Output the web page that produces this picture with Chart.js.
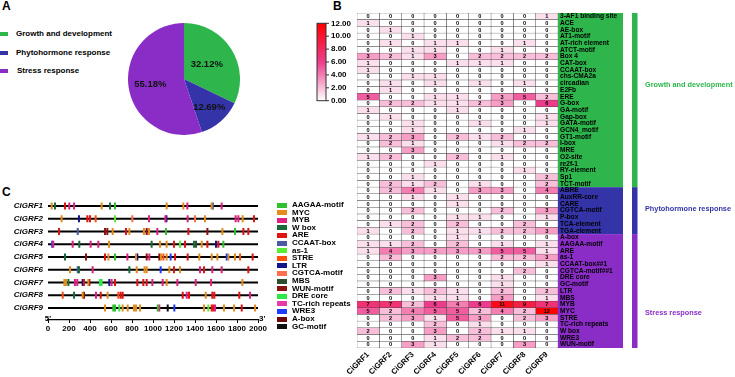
<!DOCTYPE html>
<html>
<head>
<meta charset="utf-8">
<script src="https://cdn.jsdelivr.net/npm/chart.js@4.4.1/dist/chart.umd.min.js"></script>
<style>
  body { margin: 0; background: #fff; font-family: "Liberation Sans", Arial, sans-serif; }
  #wrap { position: relative; width: 735px; height: 377px; overflow: hidden; }
  canvas { position: absolute; }
  .tag { position: absolute; font-weight: bold; font-size: 12px; line-height: 12px; }
  .lg { position: absolute; font-weight: bold; font-size: 8px; line-height: 8px; white-space: nowrap; }
  .sw { position: absolute; }
</style>
</head>
<body>
<div id="wrap">
  <div class="tag" style="left:2px;top:0px">A</div>
  <div class="tag" style="left:333px;top:0px">B</div>
  <div class="tag" style="left:2px;top:186px">C</div>
  <canvas id="pieChart" width="112" height="112" style="left:128px;top:23px"></canvas>
  <canvas id="heatChart" width="435" height="377" style="left:300px;top:0px"></canvas>
  <canvas id="geneChart" width="275" height="160" style="left:0px;top:180px"></canvas>
  <div id="pieLegend"></div>
  <div id="siteLegend"></div>
</div>
<script>
Chart.defaults.font.family = '"Liberation Sans", Arial, sans-serif';
Chart.defaults.color = '#000';
Chart.defaults.animation = false;

// ---- A: pie ----
const pieLabels = ['Growth and development', 'Phytohormone response', 'Stress response'];
const pieShares = [32.12, 12.69, 55.18];
const groupColors = ['#2eb64c', '#3434a8', '#8a2dc6'];

// ---- B: heatmap ----
const genes = ['CiGRF1', 'CiGRF2', 'CiGRF3', 'CiGRF4', 'CiGRF5', 'CiGRF6', 'CiGRF7', 'CiGRF8', 'CiGRF9'];

const growthMotifs = ['3-AF1 binding site', 'ACE', 'AE-box', 'AT1-motif', 'AT-rich element', 'ATCT-motif',
  'Box 4', 'CAT-box', 'CCAAT-box', 'chs-CMA2a', 'circadian', 'E2Fb', 'ERE', 'G-box', 'GA-motif', 'Gap-box',
  'GATA-motif', 'GCN4_motif', 'GT1-motif', 'I-box', 'MRE', 'O2-site', 're2f-1', 'RY-element', 'Sp1', 'TCT-motif'];
const growthCounts = [
  [0, 0, 0, 0, 0, 0, 0, 0, 1],
  [1, 0, 0, 0, 0, 0, 0, 0, 0],
  [0, 1, 0, 0, 0, 0, 0, 0, 0],
  [0, 0, 1, 0, 0, 0, 0, 0, 0],
  [0, 1, 0, 1, 1, 0, 0, 1, 0],
  [0, 0, 1, 1, 0, 0, 1, 0, 0],
  [3, 2, 1, 3, 0, 2, 2, 2, 2],
  [1, 0, 0, 0, 1, 1, 1, 0, 0],
  [1, 0, 0, 0, 0, 0, 0, 0, 0],
  [0, 0, 1, 1, 0, 0, 0, 0, 0],
  [0, 1, 0, 1, 0, 1, 0, 1, 0],
  [0, 1, 0, 0, 0, 0, 0, 0, 0],
  [5, 0, 0, 1, 1, 0, 3, 5, 2],
  [0, 2, 2, 1, 1, 2, 3, 0, 6],
  [1, 0, 0, 0, 1, 0, 0, 0, 0],
  [0, 1, 0, 0, 0, 0, 0, 0, 1],
  [0, 0, 1, 0, 0, 1, 0, 0, 1],
  [0, 0, 1, 0, 0, 0, 0, 1, 0],
  [1, 2, 3, 0, 2, 1, 2, 0, 0],
  [0, 2, 1, 0, 0, 0, 1, 2, 2],
  [0, 0, 3, 0, 0, 0, 0, 0, 0],
  [1, 2, 0, 0, 2, 0, 1, 0, 0],
  [0, 0, 0, 1, 0, 0, 0, 0, 0],
  [0, 0, 0, 0, 0, 0, 0, 1, 0],
  [0, 0, 1, 0, 0, 0, 0, 0, 2],
  [0, 2, 1, 2, 0, 1, 0, 0, 2]
];

const hormoneMotifs = ['ABRE', 'AuxRR-core', 'CARE', 'CGTCA-motif', 'P-box', 'TCA-element', 'TGA-element'];
const hormoneCounts = [
  [0, 2, 4, 1, 0, 3, 3, 0, 4],
  [0, 0, 1, 0, 1, 0, 0, 0, 0],
  [0, 0, 0, 0, 1, 0, 0, 0, 0],
  [0, 0, 2, 0, 0, 0, 2, 0, 3],
  [0, 0, 0, 0, 1, 1, 0, 0, 1],
  [0, 1, 2, 0, 2, 0, 0, 2, 0],
  [1, 0, 2, 0, 1, 1, 2, 2, 3]
];

const stressMotifs = ['A-box', 'AAGAA-motif', 'ARE', 'as-1', 'CCAAT-box##1', 'CGTCA-motif##1', 'DRE core',
  'GC-motif', 'LTR', 'MBS', 'MYB', 'MYC', 'STRE', 'TC-rich repeats', 'W box', 'WRE3', 'WUN-motif'];
const stressCounts = [
  [0, 0, 0, 0, 1, 0, 0, 0, 0],
  [1, 1, 2, 0, 2, 0, 1, 0, 1],
  [1, 4, 3, 3, 3, 3, 5, 5, 1],
  [0, 2, 0, 0, 0, 0, 2, 2, 3],
  [0, 0, 0, 0, 0, 0, 0, 0, 1],
  [0, 0, 0, 0, 0, 0, 0, 2, 0],
  [0, 0, 0, 3, 0, 0, 1, 0, 0],
  [0, 0, 0, 0, 0, 0, 1, 0, 0],
  [0, 2, 1, 2, 1, 0, 2, 0, 2],
  [0, 0, 0, 1, 1, 0, 3, 0, 1],
  [7, 7, 2, 6, 4, 6, 11, 9, 7],
  [5, 2, 4, 5, 5, 2, 4, 2, 12],
  [0, 2, 3, 1, 5, 3, 0, 2, 3],
  [0, 0, 0, 2, 0, 1, 0, 0, 0],
  [2, 0, 0, 3, 0, 2, 1, 1, 0],
  [0, 0, 0, 1, 2, 2, 0, 0, 0],
  [0, 0, 3, 1, 0, 0, 0, 3, 0]
];

const colorbarTicks = [0, 2, 4, 6, 8, 10, 12];

// ---- C: promoter sites ----
const siteTypes = ['AAGAA-motif', 'MYC', 'MYB', 'W box', 'ARE', 'CCAAT-box', 'as-1', 'STRE', 'LTR',
  'CGTCA-motif', 'MBS', 'WUN-motif', 'DRE core', 'TC-rich repeats', 'WRE3', 'A-box', 'GC-motif'];
const siteColors = ['#2ec02e', '#e38c1c', '#e0207f', '#17693a', '#e01212', '#4a5aa5', '#55ee33', '#ff4d0d',
  '#14148c', '#ff6d4f', '#2e4d2e', '#8c1111', '#2ee84a', '#e83aa6', '#1e3cff', '#6e0707', '#111111'];
const promoterLength = 2000;
const axisTicks = [0, 200, 400, 600, 800, 1000, 1200, 1400, 1600, 1800, 2000];

const grf1Sites = [['MYC', 35], ['W box', 67], ['ARE', 162], ['MYB', 203], ['MYB', 248], ['MYC', 511],
  ['W box', 591], ['AAGAA-motif', 638], ['MYC', 1130], ['MYC', 1289], ['MYB', 1327], ['MYC', 1558],
  ['CCAAT-box', 1570], ['MYB', 1654]];
const grf2Sites = [['MYC', 130], ['LTR', 295], ['ARE', 375], ['ARE', 400], ['STRE', 454], ['as-1', 638],
  ['CGTCA-motif', 803], ['MYB', 962], ['MYB', 1118], ['LTR', 1128], ['MYB', 1330], ['CGTCA-motif', 1400],
  ['MYC', 1495], ['MYB', 1787], ['MYB', 1813], ['MYC', 1854], ['ARE', 1962]];
const grf3Sites = [['ARE', 105], ['CCAAT-box', 283], ['WUN-motif', 543], ['WUN-motif', 565], ['MYC', 616],
  ['ARE', 743], ['MYC', 775], ['MYC', 914], ['WUN-motif', 940], ['MYC', 962], ['MYB', 1041],
  ['AAGAA-motif', 1124], ['ARE', 1337], ['WUN-motif', 1518], ['MYC', 1661], ['AAGAA-motif', 1781],
  ['ARE', 1861], ['ARE', 1908]];
const grf4Sites = [['WRE3', 40], ['MYB', 50], ['MYB', 235], ['W box', 298], ['MYB', 406], ['MYB', 479],
  ['MYC', 581], ['W box', 987], ['MYC', 1067], ['MYC', 1130], ['ARE', 1200], ['as-1', 1257], ['ARE', 1305],
  ['W box', 1390], ['MBS', 1410], ['MYC', 1464], ['ARE', 1518], ['LTR', 1600], ['ARE', 1622],
  ['AAGAA-motif', 1670]];
const grf5Sites = [['W box', 162], ['WUN-motif', 362], ['ARE', 543], ['MYC', 575], ['AAGAA-motif', 638],
  ['MYB', 756], ['MYC', 838], ['LTR', 851], ['WUN-motif', 940], ['MYB', 965], ['WUN-motif', 1060],
  ['MYC', 1076], ['STRE', 1099], ['MYC', 1130], ['WRE3', 1168], ['ARE', 1210], ['ARE', 1330], ['MYC', 1441],
  ['MYC', 1559], ['MYC', 1613], ['WRE3', 1702], ['MYC', 1718], ['MYC', 1781], ['STRE', 1829], ['ARE', 1949]];
const grf6Sites = [['MYC', 210], ['CCAAT-box', 283], ['W box', 295], ['MYB', 425], ['W box', 775],
  ['MYC', 845], ['MYC', 920], ['MYC', 940], ['WRE3', 1073], ['MYC', 1156], ['ARE', 1200], ['MYC', 1257],
  ['MYB', 1448], ['ARE', 1486], ['MYB', 1565], ['MYB', 1654], ['ARE', 1908]];
const grf7Sites = [['MYC', 156], ['MYC', 171], ['W box', 194], ['MYB', 257], ['MYB', 279], ['LTR', 330],
  ['ARE', 343], ['MYC', 384], ['WUN-motif', 394], ['DRE core', 495], ['DRE core', 511], ['LTR', 584],
  ['MYB', 606], ['ARE', 638], ['ARE', 851], ['ARE', 908], ['ARE', 940], ['MYB', 994], ['MYB', 1092],
  ['MYC', 1130], ['MYB', 1232], ['MYB', 1407], ['MYB', 1553], ['MYC', 1851]];
const grf8Sites = [['STRE', 140], ['W box', 248], ['MYC', 330], ['WUN-motif', 343], ['MYB', 457],
  ['ARE', 502], ['MYC', 568], ['STRE', 670], ['ARE', 692], ['ARE', 711], ['ARE', 1283], ['MYB', 1321],
  ['ARE', 1343], ['MYC', 1502], ['ARE', 1565], ['ARE', 1584], ['ARE', 1822], ['MYB', 1924]];
const grf9Sites = [['MYC', 543], ['AAGAA-motif', 622], ['AAGAA-motif', 638], ['DRE core', 679], ['MYC', 711],
  ['MYC', 759], ['MYC', 819], ['MYC', 838], ['MYC', 876], ['AAGAA-motif', 1045], ['MYB', 1060],
  ['GC-motif', 1140], ['WRE3', 1203], ['MYC', 1486], ['as-1', 1527], ['ARE', 1559], ['ARE', 1575],
  ['MYB', 1591], ['MYC', 1676], ['MYC', 1772], ['ARE', 1845], ['MYC', 1972]];
const geneSites = [grf1Sites, grf2Sites, grf3Sites, grf4Sites, grf5Sites, grf6Sites, grf7Sites, grf8Sites, grf9Sites];

const FONT = '"Liberation Sans", Arial, sans-serif';

// ================= A =================
// how far out (fraction of radius) each percentage label sits
const pieLabelRadius = [0.48, 0.68, 0.61];
const pieText = {
  id: 'pieText',
  afterDatasetsDraw(chart) {
    const ctx = chart.ctx;
    ctx.save();
    ctx.font = 'bold 9.5px ' + FONT;
    ctx.textAlign = 'center';
    ctx.textBaseline = 'middle';
    ctx.fillStyle = '#111';
    chart.getDatasetMeta(0).data.forEach((arc, i) => {
      const mid = (arc.startAngle + arc.endAngle) / 2;
      const r = arc.outerRadius * pieLabelRadius[i];
      ctx.fillText(pieShares[i].toFixed(2) + '%', arc.x + Math.cos(mid) * r, arc.y + Math.sin(mid) * r);
    });
    ctx.restore();
  }
};

new Chart(document.getElementById('pieChart'), {
  type: 'pie',
  data: {
    labels: pieLabels,
    datasets: [{ data: pieShares, backgroundColor: groupColors, borderWidth: 0 }]
  },
  options: {
    responsive: false,
    plugins: { legend: { display: false }, tooltip: { enabled: false } }
  },
  plugins: [pieText]
});

const pieLegend = document.getElementById('pieLegend');
const pieLegendY = [34, 53, 71];
pieLabels.forEach((name, i) => {
  pieLegend.insertAdjacentHTML('beforeend',
    `<div class="sw" style="left:0;top:${pieLegendY[i] - 2}px;width:8px;height:4px;background:${groupColors[i]}"></div>` +
    `<div class="lg" style="left:${i == 2 ? 17 : 16}px;top:${pieLegendY[i] - 4}px">${name}</div>`);
});

// ================= B =================
const groups = [
  { name: pieLabels[0], motifs: growthMotifs, counts: growthCounts, color: groupColors[0], labelAt: 10.3 },
  { name: pieLabels[1], motifs: hormoneMotifs, counts: hormoneCounts, color: groupColors[1], labelAt: 28.8 },
  { name: pieLabels[2], motifs: stressMotifs, counts: stressCounts, color: groupColors[2], labelAt: 44.3 }
];
const motifs = [].concat(growthMotifs, hormoneMotifs, stressMotifs);
const rows = [].concat(growthCounts, hormoneCounts, stressCounts);

const colorStops = [[0, [255, 255, 255]], [6, [238, 60, 140]], [12, [255, 0, 0]]];
function heatColor(v) {
  for (let i = 1; i < colorStops.length; i++) {
    const [v0, c0] = colorStops[i - 1];
    const [v1, c1] = colorStops[i];
    if (v <= v1) {
      const t = (v - v0) / (v1 - v0);
      const c = c0.map((a, k) => Math.round(a + (c1[k] - a) * t));
      return `rgb(${c[0]},${c[1]},${c[2]})`;
    }
  }
  return 'rgb(255,0,0)';
}

const heatExtras = {
  id: 'heatExtras',
  beforeDraw(chart) {
    const ctx = chart.ctx;
    const y = chart.scales.y;
    const area = chart.chartArea;
    const half = (y.getPixelForValue(1) - y.getPixelForValue(0)) / 2;
    let start = 0;
    ctx.save();
    groups.forEach(g => {
      const end = start + g.motifs.length - 1;
      const top = y.getPixelForValue(start) - half;
      const bottom = y.getPixelForValue(end) + half;
      ctx.fillStyle = g.color;
      ctx.fillRect(area.right, top, y.right - area.right, bottom - top);
      ctx.fillRect(area.right + 74, top, 5.5, bottom - top);
      ctx.font = 'bold 7.3px ' + FONT;
      ctx.textBaseline = 'middle';
      ctx.textAlign = 'left';
      ctx.fillText(g.name, area.right + 87, y.getPixelForValue(g.labelAt));
      start = end + 1;
    });

    // colour scale
    const bx = 17, bw = 9, btop = 23.3, bbot = 100.7;
    const grad = ctx.createLinearGradient(0, bbot, 0, btop);
    colorStops.forEach(([v, c]) => grad.addColorStop(v / 12, `rgb(${c[0]},${c[1]},${c[2]})`));
    ctx.fillStyle = grad;
    ctx.fillRect(bx, btop, bw, bbot - btop);
    ctx.strokeStyle = '#333';
    ctx.lineWidth = 1;
    ctx.strokeRect(bx, btop, bw, bbot - btop);
    ctx.fillStyle = '#000';
    ctx.font = 'bold 8px ' + FONT;
    ctx.textAlign = 'left';
    colorbarTicks.forEach(v => {
      const ty = bbot - v / 12 * (bbot - btop);
      ctx.beginPath();
      ctx.moveTo(bx + bw, ty);
      ctx.lineTo(bx + bw + 3, ty);
      ctx.stroke();
      ctx.fillText(v.toFixed(2), bx + bw + 5, ty);
    });
    ctx.restore();
  },
  afterDatasetsDraw(chart) {
    const ctx = chart.ctx;
    ctx.save();
    ctx.font = 'bold 5.6px ' + FONT;
    ctx.textAlign = 'center';
    ctx.textBaseline = 'middle';
    ctx.fillStyle = '#000';
    chart.data.datasets.forEach((ds, gi) => {
      chart.getDatasetMeta(gi).data.forEach((bar, ri) => {
        const p = bar.getCenterPoint();
        ctx.fillText(rows[ri][gi], p.x, p.y + 0.3);
      });
    });
    ctx.restore();
  }
};

new Chart(document.getElementById('heatChart'), {
  type: 'bar',
  data: {
    labels: motifs,
    datasets: genes.map((g, gi) => ({
      label: g,
      data: rows.map(() => 1),
      backgroundColor: rows.map(r => heatColor(r[gi])),
      borderColor: '#4a4a4a',
      borderWidth: 0.5,
      borderSkipped: false,
      barPercentage: 1,
      categoryPercentage: 1
    }))
  },
  options: {
    responsive: false,
    indexAxis: 'y',
    layout: { padding: { left: 57, top: 13, right: 112, bottom: 0 } },
    plugins: { legend: { display: false }, tooltip: { enabled: false } },
    scales: {
      x: {
        type: 'linear', stacked: true, min: 0, max: genes.length,
        grid: { display: false, drawTicks: false }, border: { display: false },
        afterBuildTicks: s => { s.ticks = genes.map((g, i) => ({ value: i + 0.5 })); },
        afterFit: s => { s.height = 29; },
        ticks: {
          autoSkip: false, minRotation: 45, maxRotation: 45, padding: 2,
          font: { size: 7.8, weight: 'bold' }, color: '#000',
          callback: (v, i) => genes[i]
        }
      },
      y: {
        stacked: true, position: 'right',
        grid: { display: false, drawTicks: false }, border: { display: false },
        afterFit: s => { s.width = 65; },
        ticks: { autoSkip: false, padding: 2, font: { size: 6.6, weight: 'bold' }, color: '#000' }
      }
    }
  },
  plugins: [heatExtras]
});

// ================= C =================
const primeLabels = {
  id: 'primeLabels',
  afterDraw(chart) {
    const ctx = chart.ctx;
    const x = chart.scales.x;
    const yb = chart.chartArea.bottom;
    ctx.save();
    ctx.font = 'bold 8px ' + FONT;
    ctx.fillStyle = '#000';
    ctx.textBaseline = 'bottom';
    ctx.textAlign = 'center';
    ctx.fillText("5'", x.getPixelForValue(0), yb + 2.5);
    ctx.textAlign = 'left';
    ctx.fillText("3'", x.getPixelForValue(promoterLength) + 1, yb + 2.5);
    ctx.restore();
  }
};

const siteDatasets = siteTypes.map((t, k) => {
  const pts = [];
  geneSites.forEach((sites, gi) => sites.forEach(([name, pos]) => {
    if (name === t) pts.push({ x: pos, y: gi });
  }));
  return {
    label: t, data: pts, order: 0,
    pointStyle: 'line', rotation: 90, pointRadius: 3.4, pointHoverRadius: 3.4,
    borderWidth: 2, borderColor: siteColors[k], backgroundColor: siteColors[k]
  };
});
const lineDatasets = genes.map((g, gi) => ({
  label: g, data: [{ x: 0, y: gi }, { x: promoterLength, y: gi }], order: 1,
  showLine: true, borderColor: '#000', borderWidth: 2.2, pointRadius: 0
}));

new Chart(document.getElementById('geneChart'), {
  type: 'scatter',
  data: { datasets: siteDatasets.concat(lineDatasets) },
  options: {
    responsive: false,
    layout: { padding: { left: 0, top: 19.6, right: 17, bottom: 0 } },
    plugins: { legend: { display: false }, tooltip: { enabled: false } },
    scales: {
      x: {
        type: 'linear', min: 0, max: promoterLength,
        afterBuildTicks: s => { s.ticks = axisTicks.map(v => ({ value: v })); },
        afterFit: s => { s.height = 20; },
        grid: { display: true, drawOnChartArea: false, drawTicks: true, tickLength: 3, color: '#000', lineWidth: 1 },
        border: { display: true, color: '#000', width: 1.2 },
        ticks: {
          padding: 1, font: { size: 8, weight: 'bold' }, color: '#000', maxRotation: 0, autoSkip: false,
          callback: v => String(v)
        }
      },
      y: {
        type: 'linear', reverse: true, min: -0.5, max: 8.94,
        afterBuildTicks: s => { s.ticks = genes.map((g, i) => ({ value: i })); },
        afterFit: s => { s.width = 48; },
        grid: { display: false, drawTicks: false }, border: { display: false },
        ticks: { padding: 5, font: { size: 8, weight: 'bold', style: 'italic' }, color: '#000', callback: (v, i) => genes[i] }
      }
    }
  },
  plugins: [primeLabels]
});

const siteLegend = document.getElementById('siteLegend');
siteTypes.forEach((t, k) => {
  const cy = 205 + k * 7.6;
  siteLegend.insertAdjacentHTML('beforeend',
    `<div class="sw" style="left:277px;top:${cy - 2.5}px;width:10px;height:5px;background:${siteColors[k]}"></div>` +
    `<div class="lg" style="left:292px;top:${cy - 4}px">${t}</div>`);
});
</script>
</body>
</html>
